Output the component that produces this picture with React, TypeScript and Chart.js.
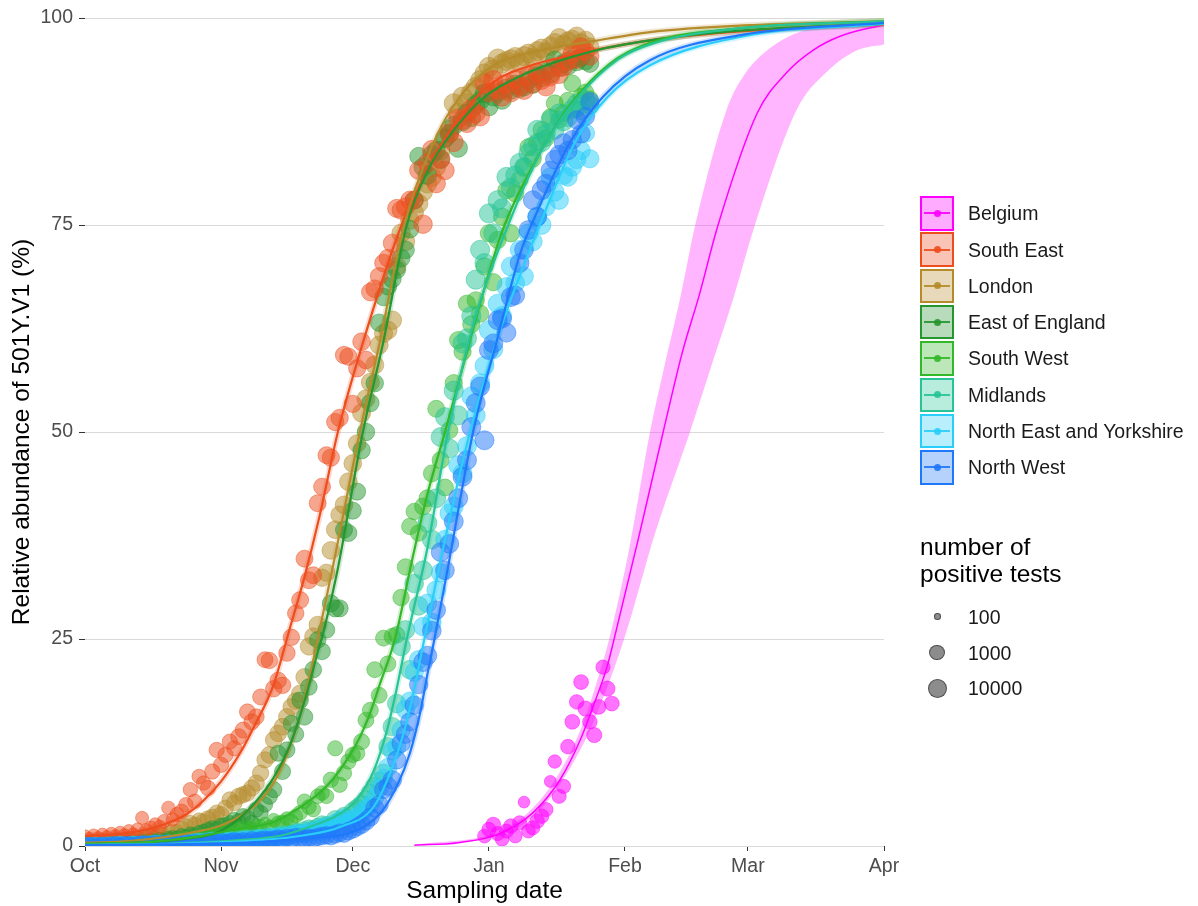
import React, { useEffect, useRef } from 'react';
import { Chart, registerables } from 'chart.js';

Chart.register(...registerables);

// ---------- axis ticks ----------
const monthTicks = [0, 31, 61, 92, 123, 151, 182]; // days since 1 Oct
const monthLabels = ['Oct', 'Nov', 'Dec', 'Jan', 'Feb', 'Mar', 'Apr'];
const yTicks = [0, 25, 50, 75, 100];

// ---------- categories ----------
const regions = [
  'Belgium',
  'South East',
  'London',
  'East of England',
  'South West',
  'Midlands',
  'North East and Yorkshire',
  'North West',
];

// ---------- observed daily relative abundance (%), day 0 = 1 Oct ----------
const seObs = [
  1.2, 0.9, 1.3, 1.0, 1.4, 1.1, 1.5, 1.2, 1.6, 1.3,
  1.8, 1.4, 2.0, 3.4, 1.9, 2.2, 2.6, 2.3, 3.0, 4.6,
  3.2, 3.8, 4.2, 5.0, 6.8, 5.4, 8.4, 7.6, 7.0, 9.0,
  11.6, 9.8, 11.0, 12.6, 11.8, 13.2, 14.0, 16.2, 15.0, 15.6,
  18.0, 22.5, 22.4, 19.0, 20.0, 19.4, 23.3, 25.2, 28.1, 29.7,
  34.7, 32.1, 32.7, 41.4, 43.4, 47.2, 46.9, 51.2, 51.7, 59.3,
  59.1, 53.4, 57.7, 60.9, 58.7, 66.9, 67.3, 68.8, 70.4, 71.0,
  72.8, 77.0, 76.8, 77.2, 78.0, 78.0, 81.6, 75.1, 82.5, 84.1,
  80.0, 83.0, 81.6, 86.1, 85.0, 87.9, 87.7, 87.3, 89.0, 88.5,
  88.1, 92.1, 91.0, 92.5, 91.3, 90.5, 92.1, 91.0, 92.6, 91.8,
  91.3, 93.0, 92.1, 93.4, 92.5, 91.7, 92.9, 94.0, 93.2, 94.1,
  94.8, 95.7, 95.0, 96.5, 96.0, 95.4,
];
const londonObs = [
  0.5, 0.4, 0.6, 0.5, 0.7, 0.5, 0.6, 0.8, 0.6, 0.7,
  0.9, 0.8, 1.0, 0.9, 1.1, 1.2, 1.0, 1.4, 1.3, 1.6,
  1.8, 1.7, 2.1, 2.4, 2.8, 2.6, 3.1, 3.0, 3.3, 3.5,
  4.0, 3.8, 4.6, 5.6, 5.2, 6.0, 6.2, 6.4, 7.0, 7.6,
  8.8, 10.4, 11.0, 12.8, 13.6, 14.4, 15.6, 16.8, 17.5, 18.4,
  20.4, 24.1, 25.3, 26.7, 32.4, 33.0, 35.7, 38.2, 40.0, 41.2,
  44.0, 46.2, 48.6, 52.3, 54.0, 56.0, 58.1, 60.5, 61.9, 62.3,
  63.5, 70.0, 74.0, 73.0, 75.6, 76.5, 77.6, 79.0, 80.0, 80.8,
  82.0, 84.0, 85.5, 86.5, 89.7, 88.5, 90.5, 89.7, 91.0, 91.7,
  92.5, 93.3, 94.1, 93.8, 95.1, 94.5, 94.8, 95.0, 95.3, 94.6,
  95.4, 95.7, 95.2, 96.0, 96.3, 95.9, 96.6, 97.0, 97.6, 96.8,
  97.2, 97.4, 97.8, 97.0, 97.3, 96.5,
];
const eoeObs = [
  0.3, 0.2, 0.4, 0.3, 0.3, 0.4, 0.3, 0.4, 0.5, 0.4,
  0.5, 0.6, 0.5, 0.7, 0.6, 0.8, 0.7, 0.9, 0.8, 1.0,
  1.1, 1.0, 1.3, 1.2, 1.5, 1.4, 1.7, 1.8, 2.0, 2.2,
  2.1, 2.5, 2.6, 2.8, 3.2, 3.0, 3.6, 3.4, 2.8, 4.4,
  4.0, 5.0, 6.0, 6.8, 11.2, 9.0, 11.6, 14.8, 13.5, 17.6,
  15.6, 19.2, 21.3, 24.9, 23.5, 26.1, 29.3, 28.7, 28.7, 38.2,
  37.8, 40.5, 42.8, 47.8, 50.0, 53.5, 55.9, 63.2, 66.3, 67.6,
  68.5, 69.6, 71.0, 72.0, 74.5, 78.0, 83.3, 82.0, 81.0, 83.5,
  84.0, 82.9, 85.5, 86.0, 87.0, 84.3, 87.5, 88.5, 88.0, 89.5,
  90.0, 90.9, 89.3, 90.5, 91.0, 90.1, 91.5, 91.3, 92.0, 91.5,
  91.7, 92.5, 92.0, 93.0, 92.8, 93.5, 93.2, 94.9, 94.0, 94.5,
  94.2, 95.0, 94.7, 95.2, 94.8, 94.5,
];
const swObs = [
  0.3, 0.2, 0.3, 0.4, 0.2, 0.3, 0.3, 0.4, 0.2, 0.3,
  0.4, 0.3, 0.5, 0.3, 0.4, 0.5, 0.4, 0.5, 0.6, 0.7,
  0.8, 0.9, 1.0, 1.1, 0.9, 1.2, 1.3, 1.1, 1.4, 1.5,
  1.6, 1.4, 1.8, 1.7, 2.0, 2.2, 1.9, 2.3, 2.1, 2.5,
  2.4, 2.7, 2.3, 3.1, 2.8, 2.9, 3.3, 3.0, 3.6, 4.0,
  5.4, 4.7, 4.4, 6.0, 6.4, 6.0, 8.0, 11.8, 7.4, 8.8,
  10.2, 11.0, 11.2, 12.6, 15.2, 16.4, 21.3, 18.2, 25.1, 22.0,
  25.3, 25.5, 30.0, 33.7, 38.6, 40.4, 37.8, 41.0, 42.0, 45.0,
  52.8, 46.6, 43.3, 50.2, 55.9, 61.1, 59.7, 65.5, 63.0, 65.9,
  64.3, 70.0, 74.0, 68.1, 73.2, 76.0, 79.2, 74.0, 78.8, 80.5,
  82.0, 84.4, 83.0, 85.0, 86.5, 85.5, 88.0, 89.7, 87.7, 88.5,
  90.0, 92.1, 89.0, 90.5, 91.0, 90.2,
];
const midlandsObs = [
  0.2, 0.1, 0.2, 0.2, 0.1, 0.2, 0.3, 0.2, 0.2, 0.1,
  0.2, 0.3, 0.2, 0.2, 0.3, 0.2, 0.3, 0.3, 0.2, 0.4,
  0.3, 0.3, 0.4, 0.3, 0.4, 0.5, 0.4, 0.4, 0.5, 0.6,
  0.5, 0.6, 0.5, 0.7, 0.6, 0.8, 0.7, 0.8, 0.9, 1.0,
  0.9, 1.1, 1.0, 1.2, 1.1, 1.4, 1.3, 1.5, 1.7, 1.6,
  1.9, 2.1, 2.0, 2.3, 2.6, 2.5, 2.3, 3.2, 3.0, 3.6,
  3.1, 4.2, 4.6, 5.0, 5.6, 6.4, 7.2, 7.8, 8.8, 12.0,
  14.4, 17.2, 24.1, 26.1, 21.3, 31.7, 29.0, 33.3, 39.0, 37.0,
  42.0, 49.4, 51.8, 48.0, 55.0, 52.0, 60.7, 61.3, 64.0, 68.4,
  72.0, 70.4, 76.4, 74.0, 78.0, 77.0, 80.8, 79.5, 81.0, 82.5,
  82.0, 83.7, 84.5, 86.5, 85.0, 86.0, 87.7, 86.5, 88.5, 87.5,
  88.0, 89.0, 89.7, 88.8, 90.1, 89.5,
];
const neyObs = [
  0.2, 0.1, 0.2, 0.1, 0.2, 0.2, 0.1, 0.2, 0.3, 0.2,
  0.2, 0.3, 0.2, 0.3, 0.2, 0.3, 0.4, 0.3, 0.3, 0.4,
  0.3, 0.4, 0.5, 0.4, 0.4, 0.5, 0.6, 0.5, 0.6, 0.7,
  0.6, 0.5, 0.7, 0.8, 0.6, 0.7, 0.8, 0.9, 0.7, 0.9,
  1.0, 0.9, 1.1, 1.0, 1.2, 1.3, 1.1, 1.4, 1.5, 1.6,
  1.5, 1.8, 1.7, 2.0, 2.2, 2.4, 2.3, 2.8, 3.0, 3.4,
  2.8, 3.2, 3.6, 4.0, 4.5, 5.0, 5.8, 7.0, 8.2, 9.5,
  11.5, 12.0, 14.0, 16.5, 17.5, 21.0, 22.5, 26.5, 29.3, 27.0,
  30.9, 33.0, 37.0, 40.2, 41.0, 46.0, 45.0, 48.3, 54.3, 52.0,
  55.9, 58.0, 62.3, 60.0, 65.5, 64.0, 67.5, 70.0, 68.0, 72.0,
  68.8, 74.0, 73.0, 76.0, 75.0, 77.2, 80.8, 79.0, 78.0, 81.0,
  80.8, 82.0, 82.9, 84.0, 86.1, 83.0,
];
const nwObs = [
  0.1, 0.2, 0.1, 0.1, 0.2, 0.1, 0.2, 0.2, 0.1, 0.2,
  0.2, 0.1, 0.2, 0.3, 0.2, 0.2, 0.3, 0.2, 0.3, 0.3,
  0.2, 0.3, 0.3, 0.4, 0.3, 0.4, 0.3, 0.4, 0.5, 0.4,
  0.4, 0.5, 0.4, 0.5, 0.6, 0.5, 0.6, 0.5, 0.7, 0.6,
  0.7, 0.8, 0.7, 0.8, 0.9, 0.8, 1.0, 0.9, 1.1, 1.0,
  0.9, 1.0, 0.9, 1.1, 1.2, 1.3, 1.2, 1.4, 1.6, 1.5,
  1.8, 2.0, 2.3, 2.6, 3.0, 3.5, 4.6, 5.0, 6.8, 7.2,
  8.0, 10.4, 12.4, 13.5, 15.0, 17.0, 19.5, 22.2, 23.0, 26.0,
  28.5, 35.5, 33.3, 36.5, 39.2, 42.0, 44.6, 46.6, 50.6, 53.5,
  55.5, 49.0, 59.9, 60.7, 63.5, 63.7, 62.0, 66.3, 66.5, 70.4,
  72.0, 74.4, 78.0, 76.0, 79.2, 80.0, 81.6, 82.9, 83.5, 84.9,
  84.0, 85.3, 87.7, 86.0, 88.1, 89.9,
];
const belgiumStartDay = 91;
const belgiumObs = [
  1.2, 2.0, 2.6, 1.5, 0.8, 1.8, 2.4, 1.2, 2.8, 5.3,
  1.8, 2.2, 3.0, 3.6, 4.4, 7.8, 10.2, 6.0, 7.2, 12.0,
  15.0, 17.4, 19.8, 16.6, 15.0, 13.4, 16.8, 21.6, 19.0, 17.2,
];

// ---------- number of positive tests (UK: weekly level, Belgium: daily) ----------
const seCounts = [350, 400, 450, 600, 800, 1000, 1350, 1800, 2250, 2900, 3800, 5000, 6300, 6800, 5900, 5000, 4000];
const londonCounts = [450, 500, 600, 720, 950, 1250, 1650, 2250, 2900, 3800, 5000, 6300, 7800, 7800, 6800, 5500, 4500];
const eoeCounts = [270, 320, 360, 450, 600, 800, 1100, 1500, 1950, 2500, 3200, 4000, 5100, 5100, 4500, 3800, 3200];
const swCounts = [130, 150, 180, 230, 300, 400, 500, 650, 800, 1000, 1350, 1800, 2250, 2250, 2000, 1800, 1600];
const midlandsCounts = [570, 680, 850, 1100, 1350, 1650, 2000, 2500, 3150, 4000, 5100, 6400, 7800, 7800, 6800, 5800, 5000];
const neyCounts = [570, 680, 850, 1100, 1350, 1650, 2000, 2500, 2900, 3600, 4500, 5500, 6800, 6800, 5900, 5000, 4200];
const nwCounts = [680, 850, 1100, 1350, 1650, 2000, 2250, 2500, 2900, 3600, 4500, 5500, 6800, 6800, 5900, 5000, 4200];
const belgiumCounts = [
  500, 560, 620, 560, 450, 560, 620, 500, 560, 280,
  500, 560, 620, 620, 560, 300, 450, 560, 560, 620,
  680, 620, 680, 750, 620, 750, 680, 560, 750, 680,
];

// ---------- fitted curves [day, %] ----------
const belgiumFit = [[75, 0.1], [85, 0.4], [94.5, 1.5], [102, 4.0], [108.2, 8.0], [112.8, 12.8], [115.7, 16.8], [118.9, 21.6], [120.3, 24.5], [126, 37], [131.7, 50], [136, 59.5], [139.9, 66.5], [144.2, 75], [153.1, 88.5], [160, 93.5], [165.8, 96.1], [172, 97.8], [182, 99.2]];
const belgiumUpper = [[75, 0.12], [94.5, 1.8], [102, 4.6], [108, 8.8], [113, 14.2], [116, 18.8], [119.4, 25], [124, 36], [128.7, 50], [132, 58], [135.5, 66], [139, 75], [146.2, 89], [150, 93], [155.4, 96.1], [165, 98.7], [182, 99.6]];
const belgiumLower = [[75, 0.08], [94.5, 1.3], [102, 3.5], [108, 7.3], [113, 11.8], [116, 15.2], [122.8, 25], [130, 38], [137.8, 50], [143, 58.5], [147.6, 66], [152.6, 75], [162.2, 89], [169, 93.5], [175.9, 96.1], [182, 96.8]];
const seFit = [[0, 1.2], [10, 1.6], [18, 2.6], [23, 3.8], [27, 5.5], [31, 7.8], [35.3, 11.2], [38.3, 14.2], [42.9, 19.4], [46.5, 26], [50, 32.5], [53.5, 40], [57.6, 50], [64, 62], [72.1, 75], [76, 79.5], [81.5, 85], [88.4, 90], [94, 92.6], [100, 94], [108, 95.2], [115.7, 96.1], [128.7, 97.3], [150, 98.4], [182, 99.2]];
const londonFit = [[0, 0.4], [10, 0.6], [18.6, 1.1], [26, 1.8], [30, 2.3], [34, 3.2], [38, 4.6], [41.4, 6.4], [44, 8.6], [46.7, 12], [49, 15.8], [51, 20], [52.8, 24.5], [56.3, 33.3], [62.6, 50], [67, 60.5], [72.7, 75], [79, 84.5], [85.4, 90.5], [93.8, 94.5], [103, 96], [115.7, 97.2], [128.7, 98.3], [150, 99.1], [182, 99.6]];
const eoeFit = [[0, 0.25], [15, 0.5], [25, 1.0], [30, 1.6], [35.3, 3.4], [39, 5.4], [42.9, 8.2], [46.7, 12.2], [50.5, 18.4], [52.8, 23], [54.3, 25.8], [57.4, 33], [63.3, 50], [68, 61], [73.3, 75], [78, 81.5], [82, 85], [90, 90], [100, 93.2], [115.7, 96], [128.7, 97.3], [150, 98.5], [182, 99.3]];
const swFit = [[0, 0.25], [15, 0.5], [25, 1.1], [35.3, 2.1], [42.9, 2.9], [50.5, 5.2], [55, 7.2], [58.1, 9.2], [61.9, 12.4], [64.9, 16], [67.2, 19.6], [70.6, 25], [74.7, 35], [78, 42.5], [82, 50], [86.9, 59.5], [90, 65.5], [95.2, 74.5], [102.9, 83], [110.5, 89.5], [119.6, 94.5], [128.7, 97], [150, 98.8], [182, 99.6]];
const midlandsFit = [[0, 0.15], [20, 0.3], [35, 0.7], [45, 1.3], [50.5, 2.2], [58.1, 3.9], [61.9, 5.6], [65.7, 9.0], [68.7, 13.8], [71, 19], [73.3, 25], [78, 36], [82.7, 50], [89, 64], [96.4, 75], [104, 84], [111.6, 90], [121.4, 95], [129.8, 97], [150, 98.8], [182, 99.6]];
const neyFit = [[0, 0.1], [20, 0.25], [40, 0.7], [50, 1.3], [58.1, 2.3], [65.7, 4.7], [69.5, 8.8], [72.5, 13.5], [75, 19], [77.3, 25], [82, 37], [87.7, 50], [95, 63], [103.6, 75], [111.6, 85], [119.1, 90.5], [128.7, 94.3], [150, 97.8], [182, 99.3]];
const nwFit = [[0, 0.1], [20, 0.2], [40, 0.5], [52, 1.0], [60.4, 1.6], [67.2, 3.9], [71, 7.2], [74, 11.2], [76.3, 16], [78.2, 21.3], [79.6, 25], [82.8, 34], [88.4, 50], [93.8, 61], [99.1, 71.5], [102.9, 76.5], [110.5, 85], [118, 90.5], [128.7, 94.9], [150, 98], [182, 99.4]];

const sizeLegendCounts = [100, 1000, 10000];

// ---------- styles ----------
const FONT = "'Liberation Sans', Arial, Helvetica, sans-serif";
const colors: number[][] = [
  [255, 0, 255],
  [238, 77, 30],
  [181, 140, 43],
  [38, 150, 48],
  [51, 184, 41],
  [38, 196, 150],
  [41, 206, 250],
  [31, 119, 250],
];
const rgba = (c: number[], a: number) => `rgba(${c[0]},${c[1]},${c[2]},${a})`;

function sizeRadius(n: number) {
  const L = Math.log10(n);
  const r2 = L <= 3 ? 10.9 + (L - 2) * 53 : 64 + (L - 3) * 32;
  return Math.sqrt(Math.max(r2, 2.5));
}

const toXY = (arr: number[][]) => arr.map(([x, y]) => ({ x, y }));
const dailyPoints = (obs: number[], weekly: number[]) =>
  obs.map((y, d) => ({ x: d, y, n: weekly[Math.floor(d / 7)] }));

export default function App() {
  const ref = useRef<HTMLCanvasElement | null>(null);

  useEffect(() => {
    if (!ref.current) return;
    const ukObs = [seObs, londonObs, eoeObs, swObs, midlandsObs, neyObs, nwObs];
    const ukCounts = [seCounts, londonCounts, eoeCounts, swCounts, midlandsCounts, neyCounts, nwCounts];
    const ukFits = [seFit, londonFit, eoeFit, swFit, midlandsFit, neyFit, nwFit];
    // drawing order for points (later = on top): Belgium, London, EoE, SE, SW, Midlands, NEY, NW
    const pointOrder: Record<number, number> = { 0: 80, 2: 79, 3: 78, 1: 77, 4: 76, 5: 75, 6: 74, 7: 73 };

    const datasets: any[] = [];
    // Belgium confidence band
    datasets.push({
      type: 'line', data: toXY(belgiumUpper), borderColor: 'transparent', borderWidth: 0,
      pointRadius: 0, fill: '+1', backgroundColor: 'rgba(255,40,255,0.34)',
      cubicInterpolationMode: 'monotone', order: 100,
    });
    datasets.push({
      type: 'line', data: toXY(belgiumLower), borderColor: 'transparent', borderWidth: 0,
      pointRadius: 0, fill: false, cubicInterpolationMode: 'monotone', order: 100,
    });
    // UK narrow bands
    ukFits.forEach((fit, i) => {
      datasets.push({
        type: 'line', data: toXY(fit), borderColor: rgba(colors[i + 1], 0.2), borderWidth: 6,
        pointRadius: 0, fill: false, cubicInterpolationMode: 'monotone', order: 90,
      });
    });
    // points
    const belgiumPts = belgiumObs.map((y, k) => ({ x: belgiumStartDay + k, y, n: belgiumCounts[k] }));
    const allPts = [belgiumPts, ...ukObs.map((o, i) => dailyPoints(o, ukCounts[i]))];
    allPts.forEach((pts, i) => {
      const r = (ctx: any) => sizeRadius(ctx.raw && ctx.raw.n ? ctx.raw.n : 100);
      datasets.push({
        type: 'line', showLine: false, data: pts,
        pointRadius: r, pointHoverRadius: r, pointHitRadius: 0,
        pointBackgroundColor: rgba(colors[i], i === 0 ? 0.55 : 0.5),
        pointBorderColor: rgba(colors[i], 0.58), pointBorderWidth: 0.8,
        order: pointOrder[i],
      });
    });
    // fitted lines
    datasets.push({
      type: 'line', data: toXY(belgiumFit), borderColor: rgba(colors[0], 1), borderWidth: 1.5,
      pointRadius: 0, fill: false, cubicInterpolationMode: 'monotone', order: 10,
    });
    ukFits.forEach((fit, i) => {
      datasets.push({
        type: 'line', data: toXY(fit), borderColor: rgba(colors[i + 1], 1), borderWidth: 2.2,
        pointRadius: 0, fill: false, cubicInterpolationMode: 'monotone', order: 9 - i,
      });
    });

    const chart = new Chart(ref.current, {
      type: 'line',
      data: { datasets },
      options: {
        animation: false,
        responsive: false,
        devicePixelRatio: 1,
        events: [],
        layout: { padding: { left: 0, right: 314, top: 18, bottom: 0 } },
        plugins: { legend: { display: false }, tooltip: { enabled: false } },
        scales: {
          x: {
            type: 'linear', min: 0, max: 182,
            afterBuildTicks: (s: any) => { s.ticks = monthTicks.map((v) => ({ value: v })); },
            afterFit: (s: any) => { s.height = 60; },
            ticks: {
              autoSkip: false, maxRotation: 0, padding: 4, color: '#4d4d4d',
              font: { family: FONT, size: 19.5 },
              callback: (_v: any, idx: number) => monthLabels[idx],
            },
            grid: { drawOnChartArea: false, drawTicks: true, tickLength: 5, tickColor: '#333333', tickWidth: 1 },
            border: { display: false },
            title: {
              display: true, text: 'Sampling date', color: '#000000',
              font: { family: FONT, size: 24.5 }, padding: { top: 0, bottom: 0 },
            },
          },
          y: {
            type: 'linear', min: 0, max: 100,
            afterBuildTicks: (s: any) => { s.ticks = yTicks.map((v) => ({ value: v })); },
            afterFit: (s: any) => { s.width = 85; },
            ticks: {
              padding: 6, color: '#4d4d4d', font: { family: FONT, size: 19.5 },
              callback: (v: any) => String(v),
            },
            grid: { color: '#dadada', lineWidth: 1, drawTicks: true, tickLength: 6, tickColor: '#333333', tickWidth: 1 },
            border: { display: false },
            title: {
              display: true, text: 'Relative abundance of 501Y.V1 (%)', color: '#000000',
              font: { family: FONT, size: 24.5 }, padding: { top: 8, bottom: 0 },
            },
          },
        },
      } as any,
    });
    return () => chart.destroy();
  }, []);

  return (
    <div style={{ position: 'absolute', left: 0, top: 0, width: 1198, height: 906, background: '#ffffff', fontFamily: FONT, overflow: 'hidden' }}>
      <canvas ref={ref} width={1198} height={906} style={{ position: 'absolute', left: 0, top: 0, width: 1198, height: 906 }} />
      {regions.map((name, i) => {
        const c = colors[i];
        return (
          <div key={name} style={{ position: 'absolute', left: 920, top: 196 + i * 36.3, height: 34.5, display: 'flex', alignItems: 'center' }}>
            <div style={{ position: 'relative', width: 34, height: 34.5, boxSizing: 'border-box', border: `2px solid ${rgba(c, 1)}`, background: rgba(c, 0.33) }}>
              <div style={{ position: 'absolute', left: 2, right: 2, top: '50%', height: 2, marginTop: -1, background: rgba(c, 0.9) }} />
              <div style={{ position: 'absolute', left: '50%', top: '50%', width: 7, height: 7, marginLeft: -3.5, marginTop: -3.5, borderRadius: '50%', background: rgba(c, 0.9) }} />
            </div>
            <span style={{ marginLeft: 14, fontSize: 19.5, color: '#1a1a1a', whiteSpace: 'nowrap', lineHeight: '22px' }}>{name}</span>
          </div>
        );
      })}
      <div style={{ position: 'absolute', left: 920, top: 533, fontSize: 24.5, lineHeight: '27px', color: '#000000', whiteSpace: 'nowrap' }}>
        number of<br />positive tests
      </div>
      {sizeLegendCounts.map((n, i) => {
        const r = sizeRadius(n);
        const cy = 616.7 + i * 35.8;
        return (
          <React.Fragment key={n}>
            <div style={{ position: 'absolute', left: 937.3 - r, top: cy - r, width: 2 * r, height: 2 * r, boxSizing: 'border-box', borderRadius: '50%', background: 'rgba(70,70,70,0.62)', border: '1px solid rgba(50,50,50,0.7)' }} />
            <div style={{ position: 'absolute', left: 968, top: cy - 11, height: 22, lineHeight: '22px', fontSize: 19.5, color: '#1a1a1a' }}>{String(n)}</div>
          </React.Fragment>
        );
      })}
    </div>
  );
}
